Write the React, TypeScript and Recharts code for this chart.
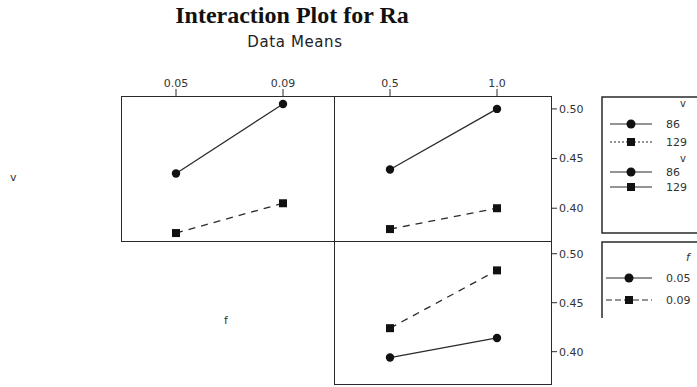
import React from 'react';
import { LineChart, Line, XAxis, YAxis } from 'recharts';

// factor levels
const fLevels = [0.05, 0.09];
const dLevels = [0.5, 1.0];
const yTicks = [0.4, 0.45, 0.5];
const yDomain: [number, number] = [0.367, 0.513];

// means of Ra
const vByF86 = [0.435, 0.505];
const vByF129 = [0.375, 0.405];
const vByD86 = [0.439, 0.5];
const vByD129 = [0.379, 0.4];
const fByD005 = [0.394, 0.414];
const fByD009 = [0.424, 0.483];

const INK = '#2a2a2a';
const FONT = '"DejaVu Sans", sans-serif';

function rows(levels: number[], a: number[], b: number[]) {
  return levels.map((x, i) => ({ x, a: a[i], b: b[i] }));
}

const CircleDot = (props: any) => {
  const { cx, cy } = props;
  if (cx == null || cy == null) return null;
  return <circle cx={cx} cy={cy} r={4.2} fill="#111" />;
};

const SquareDot = (props: any) => {
  const { cx, cy } = props;
  if (cx == null || cy == null) return null;
  return <rect x={cx - 4} y={cy - 4} width={8} height={8} fill="#111" />;
};

const tickStyle = { fontSize: 11, fill: '#333', fontFamily: FONT };

interface PanelProps {
  data: { x: number; a: number; b: number }[];
  levels: number[];
  digits: number;
  pad: { left: number; right: number };
  showTop: boolean;
  showRight: boolean;
  width: number;
  height: number;
}

function Panel({ data, levels, digits, pad, showTop, showRight, width, height }: PanelProps) {
  return (
    <LineChart width={width} height={height} data={data} margin={{ top: 0, right: 0, bottom: 0, left: 0 }}>
      <XAxis
        dataKey="x"
        type="number"
        orientation="top"
        domain={[levels[0], levels[levels.length - 1]]}
        ticks={levels}
        tickFormatter={(v: number) => v.toFixed(digits)}
        padding={pad}
        axisLine={false}
        tickSize={7}
        tickLine={{ stroke: INK }}
        tick={tickStyle}
        height={30}
        hide={!showTop}
      />
      <YAxis
        orientation="right"
        type="number"
        domain={yDomain}
        ticks={yTicks}
        tickFormatter={(v: number) => v.toFixed(2)}
        axisLine={false}
        tickSize={6}
        tickLine={{ stroke: INK }}
        tick={tickStyle}
        width={45}
        hide={!showRight}
        allowDataOverflow
      />
      <Line dataKey="a" stroke={INK} strokeWidth={1.3} dot={<CircleDot />} isAnimationActive={false} />
      <Line
        dataKey="b"
        stroke={INK}
        strokeWidth={1.3}
        strokeDasharray="7 6"
        dot={<SquareDot />}
        isAnimationActive={false}
      />
    </LineChart>
  );
}

const boxStyle = (left: number, top: number, width: number, height: number): React.CSSProperties => ({
  position: 'absolute',
  left,
  top,
  width,
  height,
  border: `1.6px solid ${INK}`,
  boxSizing: 'border-box',
  pointerEvents: 'none',
});

function LegendRow({ y, marker, dash, label, x0, x1 }: { y: number; marker: 'c' | 's'; dash?: string; label: string; x0: number; x1: number }) {
  const mx = (x0 + x1) / 2;
  return (
    <g>
      <line x1={x0} x2={x1} y1={y} y2={y} stroke={INK} strokeWidth={1.2} strokeDasharray={dash} />
      {marker === 'c' ? (
        <circle cx={mx} cy={y} r={4.5} fill="#111" />
      ) : (
        <rect x={mx - 4} y={y - 4} width={8} height={8} fill="#111" />
      )}
      <text x={x1 + 14} y={y + 4} fontSize={11} fill="#333" fontFamily={FONT}>
        {label}
      </text>
    </g>
  );
}

export default function App() {
  return (
    <div
      style={{
        position: 'absolute',
        left: 0,
        top: 0,
        width: 697,
        height: 387,
        background: '#fff',
        overflow: 'hidden',
        fontFamily: FONT,
      }}
    >
      <div
        style={{
          position: 'absolute',
          left: 117,
          width: 350,
          top: 2,
          textAlign: 'center',
          fontFamily: '"Liberation Serif", serif',
          fontWeight: 'bold',
          fontSize: 24,
          color: '#111',
        }}
      >
        Interaction Plot for Ra
      </div>
      <div
        style={{
          position: 'absolute',
          left: 120,
          width: 350,
          top: 33,
          textAlign: 'center',
          fontSize: 15,
          letterSpacing: 0.6,
          color: '#222',
        }}
      >
        Data Means
      </div>

      <div style={{ position: 'absolute', left: 10, top: 171, fontSize: 11, color: '#333' }}>v</div>
      <div style={{ position: 'absolute', left: 224, top: 314, fontSize: 11, color: '#333' }}>f</div>

      <div style={{ position: 'absolute', left: 121, top: 66 }}>
        <Panel
          data={rows(fLevels, vByF86, vByF129)}
          levels={fLevels}
          digits={2}
          pad={{ left: 55, right: 51 }}
          showTop
          showRight={false}
          width={213}
          height={175}
        />
      </div>
      <div style={{ position: 'absolute', left: 334, top: 66 }}>
        <Panel
          data={rows(dLevels, vByD86, vByD129)}
          levels={dLevels}
          digits={1}
          pad={{ left: 56, right: 54 }}
          showTop
          showRight
          width={262}
          height={175}
        />
      </div>
      <div style={{ position: 'absolute', left: 334, top: 241 }}>
        <Panel
          data={rows(dLevels, fByD005, fByD009)}
          levels={dLevels}
          digits={1}
          pad={{ left: 56, right: 54 }}
          showTop={false}
          showRight
          width={262}
          height={143}
        />
      </div>

      <div style={boxStyle(121, 96, 214, 146)} />
      <div style={boxStyle(334, 96, 218, 146)} />
      <div style={boxStyle(334, 241, 218, 144)} />

      <svg width={697} height={387} style={{ position: 'absolute', left: 0, top: 0, pointerEvents: 'none' }}>
        <path d="M700 97 H602 V233 H700" fill="none" stroke={INK} strokeWidth={1.5} />
        <text x={680} y={107} fontSize={10} fill="#333" fontFamily={FONT}>v</text>
        <LegendRow y={124} marker="c" label="86" x0={610} x1={652} />
        <LegendRow y={142} marker="s" dash="2 2" label="129" x0={610} x1={652} />
        <text x={680} y={162} fontSize={10} fill="#333" fontFamily={FONT}>v</text>
        <LegendRow y={172} marker="c" label="86" x0={610} x1={652} />
        <LegendRow y={187} marker="s" label="129" x0={610} x1={652} />

        <path d="M700 242 H602 V318" fill="none" stroke={INK} strokeWidth={1.5} />
        <text x={686} y={261} fontSize={11} fontStyle="italic" fill="#333" fontFamily={FONT}>f</text>
        <LegendRow y={278} marker="c" label="0.05" x0={606} x1={652} />
        <LegendRow y={300} marker="s" dash="6 3" label="0.09" x0={606} x1={652} />
      </svg>
    </div>
  );
}
